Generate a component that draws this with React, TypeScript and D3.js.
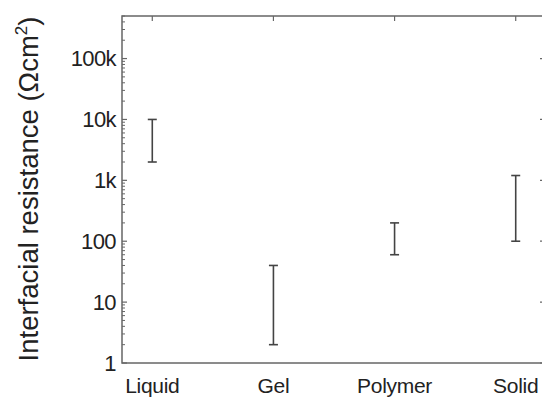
import React from "react";
import * as d3 from "d3";

const categories = ["Liquid", "Gel", "Polymer", "Solid"];
const lowValues = [2000, 2, 60, 100];
const highValues = [10000, 40, 200, 1200];
const yTickValues = [1, 10, 100, 1000, 10000, 100000];
const yTickLabels = ["1", "10", "100", "1k", "10k", "100k"];

const W = 542, H = 397;
const left = 122, right = 546, top = 16, bottom = 363;

export default function App() {
  const x = d3.scaleLinear().domain([0.75, 4.25]).range([left, right]);
  const y = d3.scaleLog().domain([1, 500000]).range([bottom, top]);
  const minor: number[] = [];
  for (let e = 0; e < 6; e++) {
    for (let m = 2; m <= 9; m++) {
      const v = m * Math.pow(10, e);
      if (v <= 500000) minor.push(v);
    }
  }
  const axisColor = "#666";
  const textColor = "#222";
  const font = "'Liberation Sans', Arial, sans-serif";
  return (
    <svg width={W} height={H} style={{ position: "absolute", left: 0, top: 0, background: "#fff" }} fontFamily={font}>
      <rect x={0} y={0} width={W} height={H} fill="#fff" />
      <rect x={left} y={top} width={right - left} height={bottom - top} fill="none" stroke={axisColor} strokeWidth={1.5} />
      {yTickValues.map((v, i) => (
        <g key={"yt" + i}>
          <line x1={left} x2={left + 5} y1={y(v)} y2={y(v)} stroke={axisColor} strokeWidth={1.2} />
          <line x1={right} x2={right - 6} y1={y(v)} y2={y(v)} stroke={axisColor} strokeWidth={1.2} />
          <text x={116} y={y(v)} dy="0.36em" textAnchor="end" fontSize={22} fill={textColor} letterSpacing={-0.6}>
            {yTickLabels[i]}
          </text>
        </g>
      ))}
      {minor.map((v, i) => (
        <line key={"ym" + i} x1={left} x2={left + 3} y1={y(v)} y2={y(v)} stroke={axisColor} strokeWidth={1} />
      ))}
      {categories.map((c, i) => (
        <line key={"xt" + i} x1={x(i + 1)} x2={x(i + 1)} y1={top} y2={top + 5} stroke={axisColor} strokeWidth={1.2} />
      ))}
      {categories.map((c, i) => (
        <text key={"xl" + i} x={x(i + 1)} y={393} textAnchor="middle" fontSize={21} fill={textColor} letterSpacing={-0.3}>
          {c}
        </text>
      ))}
      {categories.map((c, i) => {
        const cx = x(i + 1);
        return (
          <g key={"eb" + i} stroke="#444" strokeWidth={1.6}>
            <line x1={cx} x2={cx} y1={y(lowValues[i])} y2={y(highValues[i])} />
            <line x1={cx - 4.5} x2={cx + 4.5} y1={y(lowValues[i])} y2={y(lowValues[i])} />
            <line x1={cx - 4.5} x2={cx + 4.5} y1={y(highValues[i])} y2={y(highValues[i])} />
          </g>
        );
      })}
      <text transform={`translate(38, 189) rotate(-90)`} textAnchor="middle" fontSize={27.5} fill={textColor}>
        Interfacial resistance (Ωcm<tspan dy={-11} fontSize={17}>2</tspan><tspan dy={11}>)</tspan>
      </text>
    </svg>
  );
}
